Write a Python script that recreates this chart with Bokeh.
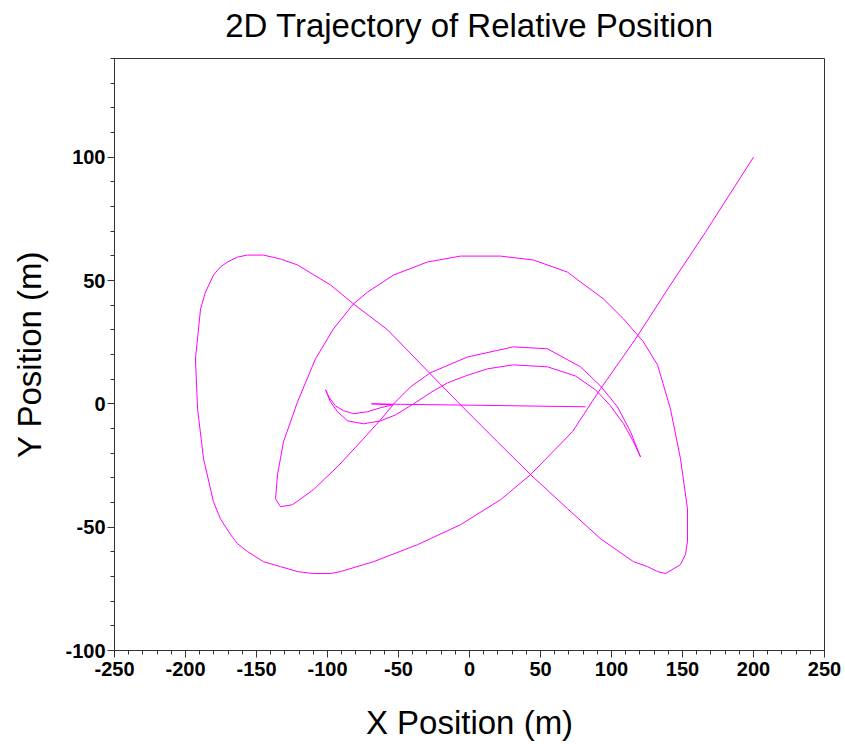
from bokeh.plotting import figure
from bokeh.models import (Range1d, SingleIntervalTicker, FixedTicker,
                          CustomJSTickFormatter, LinearAxis)
from bokeh.embed import file_html
from bokeh.resources import INLINE

# Relative position samples (m), in time order
x_pos = [
    200.0, 166.2, 141.5, 116.9, 92.3, 72.5, 43.0, 21.8, -6.3, -36.6,
    -67.6, -90.8, -97.9, -109.9, -121.1, -133.1, -145.1, -156.3, -163.4, -168.3,
    -175.4, -180.3, -187.3, -191.5, -193.0, -189.4, -185.9, -180.3, -175.4, -170.4,
    -163.4, -156.3, -145.1, -133.1, -121.1, -97.9, -81.7, -57.7, -27.5, -6.3,
    19.7, 43.0, 69.0, 92.3, 115.5, 125.4, 132.4, 138.0, 148.6, 152.1,
    153.5, 153.5, 148.6, 141.5, 132.4, 122.5, 108.5, 94.4, 78.2,
    69.0, 45.1, 21.8, -6.3, -29.6, -53.5, -71.8, -81.7, -95.8, -108.5,
    -121.1, -131.0, -135.2, -136.6, -133.1, -124.6, -109.9, -92.3, -75.4, -62.7,
    -52.1, -41.5, -27.5, -1.4, 31.0, 54.9, 78.2, 92.3, 104.2, 113.4,
    120.4, 115.5, 108.5, 99.3, 88.7, 74.6, 54.9, 31.0, 12.7, -2.8,
    -15.5, -27.5, -39.4, -52.1, -62.7, -74.6, -85.9, -93.0, -97.9, -101.4,
    -98.6, -94.4, -88.7, -81.7, -71.8, -62.7, -54.2, -69.0, -48.6, 7.7,
    81.7,
]
y_pos = [
    100.0, 69.6, 48.2, 26.3, 6.1, -11.3, -28.7, -38.9, -49.0, -57.1,
    -64.0, -68.0, -68.8, -68.8, -68.0, -66.0, -64.0, -59.9, -56.7, -53.0,
    -46.6, -39.7, -22.3, -2.0, 18.2, 38.5, 45.3, 52.2, 55.5, 57.5,
    59.5, 60.3, 60.3, 58.7, 56.3, 48.2, 40.5, 30.0, 12.1, -0.4,
    -15.4, -28.7, -42.5, -54.7, -64.0, -66.0, -68.0, -68.8, -65.2, -61.1,
    -55.9, -42.5, -22.3, -2.0, 15.8, 25.1, 34.4, 42.5, 49.4,
    53.4, 58.3, 59.9, 59.9, 57.5, 52.2, 45.3, 40.5, 30.4, 18.2,
    0.8, -15.4, -28.7, -38.5, -41.7, -40.9, -34.8, -25.1, -14.6, -6.5,
    0.8, 6.9, 12.6, 19.0, 23.1, 22.3, 15.0, 7.2, -1.2, -11.3,
    -21.5, -15.4, -8.1, -0.8, 5.7, 11.3, 15.0, 15.8, 14.2, 11.3,
    8.5, 4.5, 0.0, -4.5, -6.9, -8.1, -6.9, -3.2, 0.8, 5.7,
    2.4, -0.8, -2.8, -4.0, -3.2, -1.6, -0.4, 0.0, -0.2, -0.6,
    -1.2,
]

TITLE = "2D Trajectory of Relative Position"

p = figure(
    frame_width=710, frame_height=592,
    x_range=Range1d(-250, 250), y_range=Range1d(-100, 140),
    output_backend="svg", toolbar_location=None,
    min_border_left=114, min_border_right=21,
    min_border_top=58, min_border_bottom=94,
    background_fill_color="white", border_fill_color="white",
)

p.line(x_pos, y_pos, line_color="#ff00ff", line_width=1)

font = "Liberation Sans"

p.xgrid.visible = False
p.ygrid.visible = False
p.outline_line_color = "#333333"
p.outline_line_width = 1

x_axis = p.below[0]
y_axis = p.left[0]

for ax in (x_axis, y_axis):
    ax.ticker = SingleIntervalTicker(interval=50, num_minor_ticks=5)
    ax.formatter = CustomJSTickFormatter(code="return tick.toFixed(0);")
    ax.axis_line_color = "#333333"
    ax.major_tick_line_color = "#333333"
    ax.minor_tick_line_color = "#333333"
    ax.major_tick_out = 7
    ax.major_tick_in = 0
    ax.minor_tick_out = 4
    ax.minor_tick_in = 0
    ax.major_label_text_font = font
    ax.major_label_text_font_size = "20px"
    ax.major_label_text_font_style = "bold"
    ax.major_label_text_color = "black"
    ax.axis_label_text_font = font
    ax.axis_label_text_font_size = "33px"
    ax.axis_label_text_font_style = "normal"
    ax.axis_label_text_color = "black"

x_axis.axis_label = "X Position (m)"
y_axis.axis_label = "Y Position (m)"
x_axis.major_label_standoff = 4
y_axis.major_label_standoff = 2
x_axis.axis_label_standoff = 25
y_axis.axis_label_standoff = 14

# Tick-less axis along the top edge that carries the chart title
title_axis = LinearAxis(
    ticker=FixedTicker(ticks=[]),
    axis_line_color=None,
    major_tick_line_color=None, minor_tick_line_color=None,
    major_tick_out=0, major_tick_in=0, minor_tick_out=0, minor_tick_in=0,
    major_label_text_font_size="0px",
    axis_label=TITLE,
    axis_label_text_font=font, axis_label_text_font_size="33px",
    axis_label_text_font_style="normal", axis_label_text_color="black",
    axis_label_standoff=15,
)
p.add_layout(title_axis, "above")

open("out.html", "w").write(file_html(p, INLINE))
